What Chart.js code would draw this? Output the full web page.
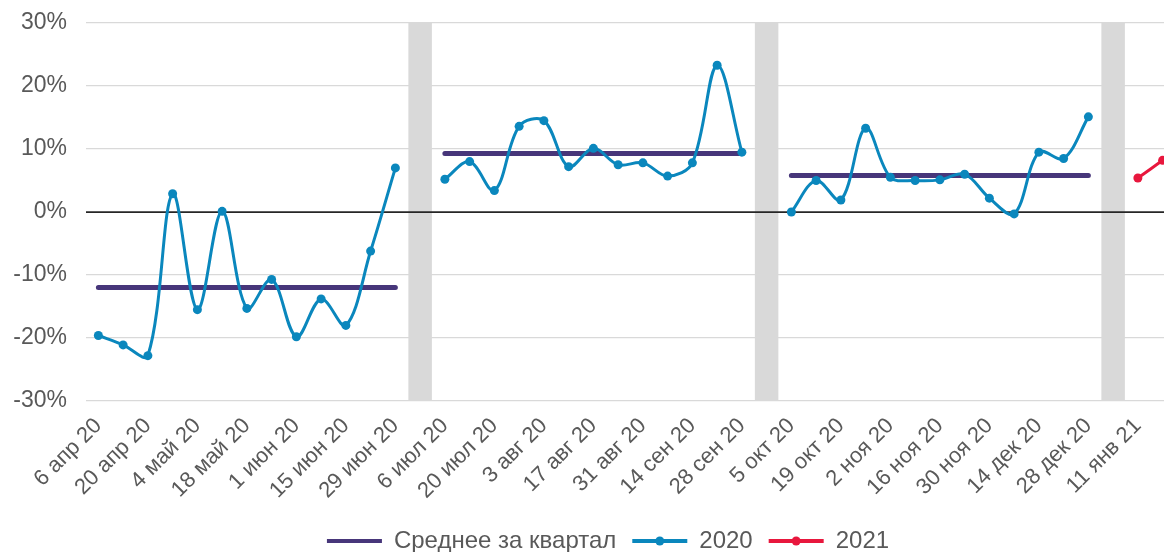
<!DOCTYPE html>
<html>
<head>
<meta charset="utf-8">
<script src="https://cdn.jsdelivr.net/npm/chart.js@4.4.1/dist/chart.umd.min.js"></script>
<style>
  html, body { margin: 0; padding: 0; background: #fff; overflow: hidden; }
  #wrap { width: 1216px; height: 552px; position: relative; }
</style>
</head>
<body>
<div id="wrap"><canvas id="chart_main"></canvas></div>
<script>
// weekly categories, '' = empty slot between quarters
const weeks = [
  '6 апр 20', '13 апр 20', '20 апр 20', '27 апр 20', '4 май 20', '11 май 20', '18 май 20',
  '25 май 20', '1 июн 20', '8 июн 20', '15 июн 20', '22 июн 20', '29 июн 20', '',
  '6 июл 20', '13 июл 20', '20 июл 20', '27 июл 20', '3 авг 20', '10 авг 20', '17 авг 20',
  '24 авг 20', '31 авг 20', '7 сен 20', '14 сен 20', '21 сен 20', '28 сен 20', '',
  '5 окт 20', '12 окт 20', '19 окт 20', '26 окт 20', '2 ноя 20', '9 ноя 20', '16 ноя 20',
  '23 ноя 20', '30 ноя 20', '7 дек 20', '14 дек 20', '21 дек 20', '28 дек 20', '',
  '11 янв 21', '18 янв 21'
];

// 2020, by quarter (%)
const q2Values = [-19.6, -21.1, -22.8, 2.9, -15.5, 0.1, -15.3, -10.7, -19.8, -13.8, -18.0, -6.2, 7.0];
const q3Values = [5.2, 8.0, 3.4, 13.6, 14.5, 7.2, 10.1, 7.5, 7.8, 5.7, 7.8, 23.3, 9.5];
const q4Values = [0.0, 5.0, 1.9, 13.3, 5.5, 5.0, 5.1, 6.0, 2.2, -0.3, 9.5, 8.5, 15.1];
const quarterMeans = [-12.0, 9.3, 5.8];
const quarterStart = [0, 14, 28];

const values2021 = [5.4, 8.2];
const start2021 = 42;

const gapSlots = [13, 27, 41];
const yTicks = [-30, -20, -10, 0, 10, 20, 30];

const quarters = [q2Values, q3Values, q4Values];
const series2020 = weeks.map(() => null);
const seriesMean = weeks.map(() => null);
quarters.forEach((q, k) => {
  q.forEach((v, j) => {
    series2020[quarterStart[k] + j] = v;
    seriesMean[quarterStart[k] + j] = quarterMeans[k];
  });
});
const series2021 = weeks.map(() => null);
values2021.forEach((v, j) => { series2021[start2021 + j] = v; });
const yMin = yTicks[0], yMax = yTicks[yTicks.length - 1];
const seriesGap = weeks.map((w, i) => gapSlots.includes(i) ? [yMin, yMax] : null);

const textColor = '#595959';
Chart.defaults.font.family = '"Liberation Sans", Arial, sans-serif';
Chart.defaults.font.size = 22;
Chart.defaults.color = textColor;

// zero line goes over the grey bands but under the lines
const zeroLine = {
  id: 'zeroLine',
  afterDatasetDraw(chart, args) {
    if (args.index !== 3) return;
    const ctx = chart.ctx, y = chart.scales.y.getPixelForValue(0), a = chart.chartArea;
    ctx.save();
    ctx.strokeStyle = '#262626';
    ctx.lineWidth = 1.75;
    ctx.beginPath();
    ctx.moveTo(a.left, y);
    ctx.lineTo(a.right, y);
    ctx.stroke();
    ctx.restore();
  }
};

// dot in the middle of legend lines for series with markers
const legendDots = {
  id: 'legendDots',
  afterDraw(chart) {
    const lg = chart.legend, ctx = chart.ctx;
    if (!lg || !lg.legendHitBoxes) return;
    const bw = lg.options.labels.boxWidth, fs = lg.options.labels.font.size || 22;
    lg.legendHitBoxes.forEach((hb, i) => {
      const item = lg.legendItems[i];
      if (!item || !item.dot) return;
      ctx.save();
      ctx.fillStyle = item.fillStyle;
      ctx.beginPath();
      ctx.arc(hb.left + bw / 2, hb.top + fs / 2, 4.5, 0, Math.PI * 2);
      ctx.fill();
      ctx.restore();
    });
  }
};

new Chart(document.getElementById('chart_main').getContext('2d'), {
  type: 'line',
  data: {
    labels: weeks,
    datasets: [
      {
        label: 'Среднее за квартал',
        data: seriesMean,
        borderColor: '#47367a',
        backgroundColor: '#47367a',
        borderWidth: 5,
        borderCapStyle: 'round',
        pointRadius: 0,
        tension: 0,
        order: 3
      },
      {
        label: '2020',
        data: series2020,
        borderColor: '#0a87bd',
        backgroundColor: '#0a87bd',
        borderWidth: 3,
        pointRadius: 4.5,
        pointBorderWidth: 0,
        tension: 0.35,
        order: 2
      },
      {
        label: '2021',
        data: series2021,
        borderColor: '#e8173d',
        backgroundColor: '#e8173d',
        borderWidth: 3,
        pointRadius: 4.5,
        pointBorderWidth: 0,
        tension: 0.35,
        order: 1
      },
      {
        type: 'bar',
        label: 'gap',
        data: seriesGap,
        backgroundColor: '#d9d9d9',
        barPercentage: 0.95,
        categoryPercentage: 1,
        grouped: false,
        order: 4
      }
    ]
  },
  options: {
    responsive: true,
    maintainAspectRatio: false,
    animation: false,
    layout: { padding: { top: 23, left: 0, right: 0, bottom: -11 } },
    plugins: {
      tooltip: { enabled: false },
      legend: {
        position: 'bottom',
        labels: {
          boxWidth: 55,
          boxHeight: 4,
          padding: 16,
          color: textColor,
          font: { size: 24 },
          filter: item => item.text !== 'gap',
          sort: (a, b) => a.datasetIndex - b.datasetIndex,
          generateLabels(chart) {
            const items = Chart.defaults.plugins.legend.labels.generateLabels(chart);
            return items.map(it => {
              const ds = chart.data.datasets[it.datasetIndex];
              it.fillStyle = ds.borderColor;
              it.strokeStyle = ds.borderColor;
              it.lineWidth = 0;
              it.dot = ds.pointRadius > 0;
              return it;
            });
          }
        }
      }
    },
    scales: {
      x: {
        offset: true,
        grid: { display: false },
        border: { display: false },
        ticks: {
          autoSkip: false,
          minRotation: 45,
          maxRotation: 45,
          padding: 4,
          color: textColor,
          font: { size: 22 },
          callback: function (val, i) { return i % 2 === 0 ? this.getLabelForValue(val) : ''; }
        },
        afterFit(scale) {
          scale.height = 112;
          scale.paddingLeft = 0;
          scale.paddingRight = 41;
        }
      },
      y: {
        min: yMin,
        max: yMax,
        border: { display: false },
        grid: {
          color: ctx => ctx.tick && ctx.tick.value === 0 ? 'rgba(0,0,0,0)' : '#d9d9d9',
          lineWidth: 1.3,
          drawTicks: false
        },
        ticks: {
          stepSize: 10,
          padding: 19,
          color: textColor,
          font: { size: 23 },
          callback: v => v + '%'
        },
        afterFit(scale) {
          scale.width = 86;
          scale.paddingTop = 0;
          scale.paddingBottom = 0;
        }
      }
    }
  },
  plugins: [zeroLine, legendDots]
});
</script>
</body>
</html>
